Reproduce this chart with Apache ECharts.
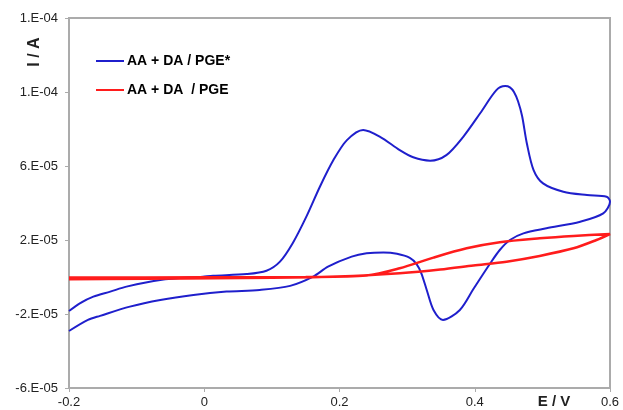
<!DOCTYPE html>
<html>
<head>
<meta charset="utf-8">
<script src="https://cdn.jsdelivr.net/npm/echarts@6/dist/echarts.min.js"></script>
<style>
  html, body { margin: 0; padding: 0; background: #fff; }
  #chart { width: 623px; height: 410px; }
</style>
</head>
<body>
<div id="chart"></div>
<script>
// Cyclic voltammograms: potential E (V) and current I (A), scan order preserved
const seriesNames = ['AA + DA / PGE*', 'AA + DA  / PGE'];

// modified electrode (PGE*): forward scan then reverse scan
const pgeStarE = [
  -0.200, -0.184, -0.164, -0.139, -0.115, -0.065, -0.002, 0.013, 0.063, 0.092,
  0.112, 0.131, 0.151, 0.171, 0.191, 0.211, 0.235, 0.260, 0.289, 0.309,
  0.334, 0.358, 0.383, 0.408, 0.432, 0.445, 0.452, 0.458, 0.464, 0.470,
  0.477, 0.487, 0.501, 0.531, 0.566, 0.595, 0.600,
  0.590, 0.556, 0.506, 0.472, 0.452, 0.437, 0.423, 0.398, 0.378, 0.353,
  0.339, 0.329, 0.321, 0.314, 0.304, 0.285, 0.265, 0.240, 0.218, 0.183, 0.161,
  0.127, 0.082, 0.033, -0.016, -0.065, -0.110, -0.154, -0.172, -0.200
];
const pgeStarI = [
  -1.84e-5, -1.42e-5, -1.06e-5, -0.79e-5, -0.52e-5, -0.16e-5, 0.02e-5, 0.07e-5, 0.16e-5, 0.34e-5,
  0.83e-5, 1.84e-5, 3.26e-5, 4.88e-5, 6.32e-5, 7.40e-5, 7.95e-5, 7.58e-5, 6.86e-5, 6.47e-5,
  6.29e-5, 6.59e-5, 7.58e-5, 8.85e-5, 10.1e-5, 10.32e-5, 10.25e-5, 10.0e-5, 9.5e-5, 8.7e-5,
  7.23e-5, 5.78e-5, 5.06e-5, 4.61e-5, 4.43e-5, 4.34e-5, 4.07e-5,
  3.44e-5, 2.99e-5, 2.63e-5, 2.36e-5, 2.00e-5, 1.46e-5, 0.74e-5, -0.65e-5, -1.78e-5, -2.32e-5,
  -1.78e-5, -0.70e-5, 0.20e-5, 0.70e-5, 1.04e-5, 1.26e-5, 1.33e-5, 1.28e-5, 1.10e-5, 0.56e-5, 0.02e-5,
  -0.48e-5, -0.70e-5, -0.79e-5, -0.97e-5, -1.24e-5, -1.60e-5, -2.10e-5, -2.32e-5, -2.92e-5
];

// bare electrode (PGE): forward scan then reverse scan
const pgeE = [
  -0.200, 0.000, 0.150, 0.240, 0.289, 0.339, 0.388, 0.437, 0.496, 0.546, 0.600,
  0.580, 0.546, 0.496, 0.447, 0.398, 0.349, 0.289, 0.220, 0.100, -0.200
];
const pgeI = [
  -0.03e-5, -0.02e-5, 0.00e-5, 0.08e-5, 0.47e-5, 1.05e-5, 1.55e-5, 1.88e-5, 2.09e-5, 2.22e-5, 2.32e-5,
  2.00e-5, 1.55e-5, 1.14e-5, 0.83e-5, 0.62e-5, 0.40e-5, 0.20e-5, 0.06e-5, -0.04e-5, -0.12e-5
];

// axis tick labels
const xTickLabels = ['-0.2', '0', '0.2', '0.4', '0.6'];
const yTickLabels = ['-6.E-05', '-2.E-05', '2.E-05', '6.E-05', '1.E-04', '1.E-04'];

const seriesColors = ['#1f1fcc', '#ff1c1c'];
const pair = (xs, ys) => xs.map((x, i) => [x, ys[i]]);

const chart = echarts.init(document.getElementById('chart'), null, { renderer: 'canvas' });
const FONT = '"Liberation Sans", Arial, sans-serif';
const frameColor = '#ababab';

chart.setOption({
  animation: false,
  backgroundColor: '#ffffff',
  grid: {
    left: 69, right: 13, top: 18, bottom: 22,
    show: true, borderColor: frameColor, borderWidth: 2, backgroundColor: 'transparent'
  },
  legend: {
    orient: 'vertical',
    left: 96, top: 54, padding: 0,
    itemWidth: 28, itemHeight: 2, itemGap: 15,
    icon: 'rect',
    data: seriesNames,
    textStyle: { fontFamily: FONT, fontWeight: 'bold', fontSize: 14, color: '#000', padding: [0, 0, 0, -2] }
  },
  xAxis: {
    type: 'value', min: -0.2, max: 0.6, interval: 0.2,
    axisLine: { show: true, onZero: false, lineStyle: { color: frameColor, width: 2 } },
    axisTick: { show: true, length: 4, lineStyle: { color: frameColor, width: 1 } },
    splitLine: { show: false },
    axisLabel: {
      margin: 8, fontFamily: FONT, fontSize: 13, color: '#222',
      formatter: (v, i) => xTickLabels[i]
    }
  },
  yAxis: {
    type: 'value', min: -6e-5, max: 1.4e-4, interval: 4e-5,
    axisLine: { show: true, onZero: false, lineStyle: { color: frameColor, width: 2 } },
    axisTick: { show: true, length: 4, lineStyle: { color: frameColor, width: 1 } },
    splitLine: { show: false },
    axisLabel: {
      margin: 11, fontFamily: FONT, fontSize: 13, color: '#222',
      formatter: (v, i) => yTickLabels[i]
    }
  },
  graphic: [
    {
      type: 'text', x: 35, y: 52, rotation: Math.PI / 2,
      style: { text: 'I / A', fontFamily: FONT, fontWeight: 'bold', fontSize: 16, fill: '#222', align: 'center', verticalAlign: 'middle' }
    },
    {
      type: 'text', x: 554, y: 402,
      style: { text: 'E / V', fontFamily: FONT, fontWeight: 'bold', fontSize: 15, fill: '#222', align: 'center', verticalAlign: 'middle' }
    }
  ],
  series: [
    {
      name: seriesNames[0], type: 'line', data: pair(pgeStarE, pgeStarI),
      showSymbol: false, symbol: 'none', smooth: 0.3, z: 3,
      lineStyle: { color: seriesColors[0], width: 2 }, itemStyle: { color: seriesColors[0] }
    },
    {
      name: seriesNames[1], type: 'line', data: pair(pgeE, pgeI),
      showSymbol: false, symbol: 'none', smooth: 0.3, z: 4,
      lineStyle: { color: seriesColors[1], width: 2.5 }, itemStyle: { color: seriesColors[1] }
    }
  ]
});
</script>
</body>
</html>
